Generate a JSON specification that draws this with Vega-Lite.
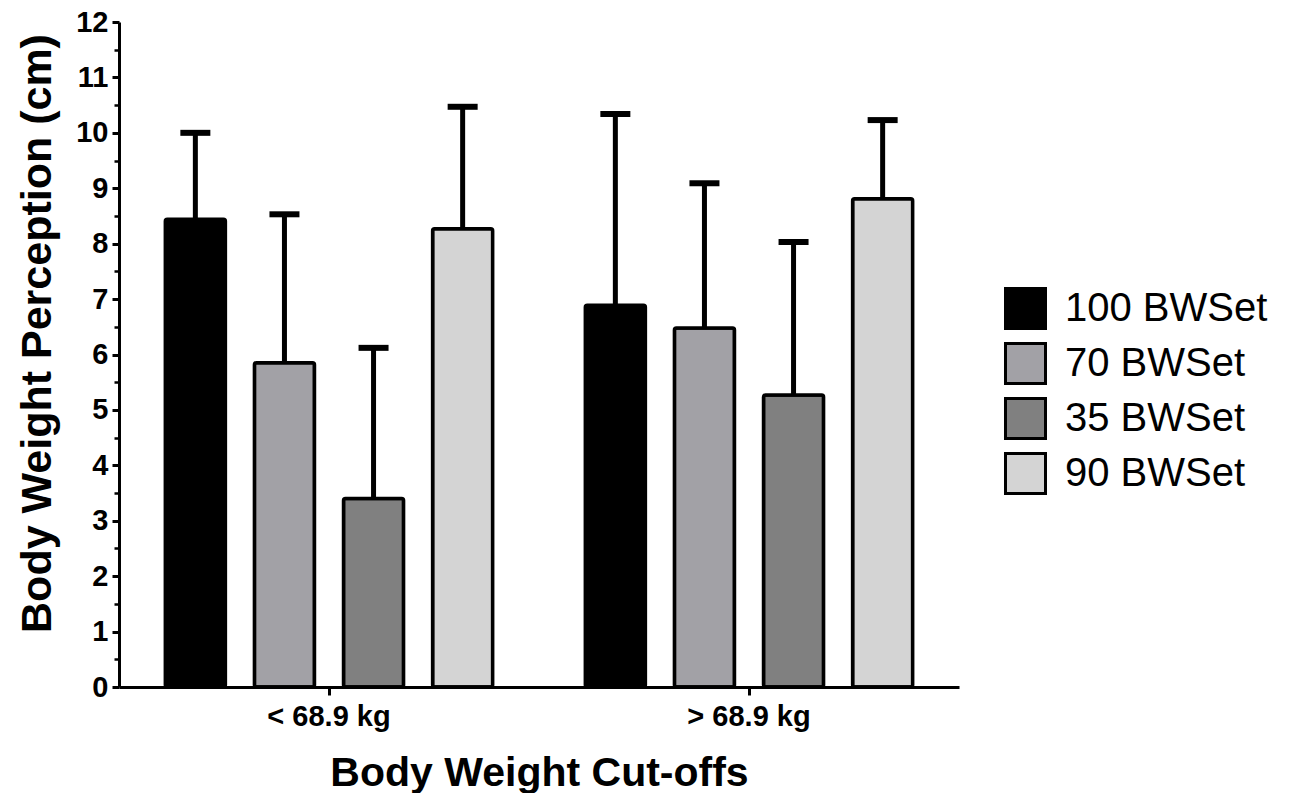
{
  "$schema": "https://vega.github.io/schema/vega-lite/v6.json",
  "width": 840,
  "height": 665,
  "padding": {"left": 16, "top": 8, "right": 5, "bottom": 0},
  "background": "white",
  "config": {
    "font": "Liberation Sans",
    "view": {"stroke": null},
    "axis": {
      "domainColor": "black",
      "domainWidth": 3,
      "tickColor": "black",
      "tickWidth": 3,
      "labelColor": "black",
      "titleColor": "black",
      "labelFont": "Liberation Sans",
      "titleFont": "Liberation Sans",
      "labelFontWeight": "bold",
      "titleFontWeight": "bold",
      "grid": false
    }
  },
  "data": {
    "values": [
      {"cutoff": "< 68.9 kg", "set": "100 BWSet", "mean": 8.44, "upper": 10.0},
      {"cutoff": "< 68.9 kg", "set": "70 BWSet", "mean": 5.85, "upper": 8.53},
      {"cutoff": "< 68.9 kg", "set": "35 BWSet", "mean": 3.4, "upper": 6.12},
      {"cutoff": "< 68.9 kg", "set": "90 BWSet", "mean": 8.27, "upper": 10.47},
      {"cutoff": "> 68.9 kg", "set": "100 BWSet", "mean": 6.89, "upper": 10.34},
      {"cutoff": "> 68.9 kg", "set": "70 BWSet", "mean": 6.48, "upper": 9.09},
      {"cutoff": "> 68.9 kg", "set": "35 BWSet", "mean": 5.27, "upper": 8.03},
      {"cutoff": "> 68.9 kg", "set": "90 BWSet", "mean": 8.81, "upper": 10.23}
    ]
  },
  "encoding": {
    "x": {
      "field": "cutoff",
      "type": "nominal",
      "sort": ["< 68.9 kg", "> 68.9 kg"],
      "scale": {"paddingInner": 0, "paddingOuter": 0},
      "axis": {
        "title": "Body Weight Cut-offs",
        "labelAngle": 0,
        "labelFontSize": 29,
        "titleFontSize": 41,
        "tickSize": 8,
        "labelPadding": 7,
        "titlePadding": 22
      }
    },
    "xOffset": {
      "field": "set",
      "type": "nominal",
      "sort": ["100 BWSet", "70 BWSet", "35 BWSet", "90 BWSet"],
      "scale": {"paddingInner": 0.326, "paddingOuter": 0.52}
    }
  },
  "layer": [
    {
      "mark": {"type": "bar", "stroke": "black", "strokeWidth": 3.5, "cornerRadius": 2},
      "encoding": {
        "y": {
          "field": "mean",
          "type": "quantitative",
          "scale": {"domain": [0, 12], "nice": false},
          "axis": {
            "orient": "left",
            "title": "Body Weight Perception (cm)",
            "values": [0,1,2,3,4,5,6,7,8,9,10,11,12],
            "labelFontSize": 29,
            "titleFontSize": 43,
            "tickSize": 7,
            "labelPadding": 4,
            "titleX": -60,
            "titleY": 311
          }
        },
        "color": {
          "field": "set",
          "type": "nominal",
          "sort": ["100 BWSet", "70 BWSet", "35 BWSet", "90 BWSet"],
          "scale": {
            "domain": ["100 BWSet", "70 BWSet", "35 BWSet", "90 BWSet"],
            "range": ["#000000", "#a2a1a6", "#808080", "#d4d4d4"]
          },
          "legend": {
            "title": null,
            "orient": "none",
            "legendX": 885,
            "legendY": 265,
            "symbolType": "square",
            "symbolSize": 1600,
            "symbolStrokeColor": "black",
            "symbolStrokeWidth": 3,
            "symbolOpacity": 1,
            "labelFontSize": 40,
            "labelFont": "Liberation Sans",
            "labelColor": "black",
            "labelOffset": 18,
            "rowPadding": 2,
            "labelLimit": 400
          }
        }
      }
    },
    {
      "mark": {"type": "rule", "strokeWidth": 5, "color": "black"},
      "encoding": {
        "y": {"field": "mean", "type": "quantitative", "axis": null},
        "y2": {"field": "upper"}
      }
    },
    {
      "mark": {"type": "tick", "size": 30, "thickness": 6, "color": "black", "opacity": 1},
      "encoding": {
        "y": {"field": "upper", "type": "quantitative", "axis": null}
      }
    },
    {
      "mark": {"type": "rule", "opacity": 0},
      "encoding": {
        "y": {
          "field": "mean",
          "type": "quantitative",
          "axis": {
            "orient": "left",
            "title": null,
            "labels": false,
            "domain": false,
            "values": [0.5,1.5,2.5,3.5,4.5,5.5,6.5,7.5,8.5,9.5,10.5,11.5],
            "tickSize": 5,
            "tickWidth": 2.5
          }
        }
      }
    }
  ],
  "resolve": {"axis": {"y": "independent"}}
}
